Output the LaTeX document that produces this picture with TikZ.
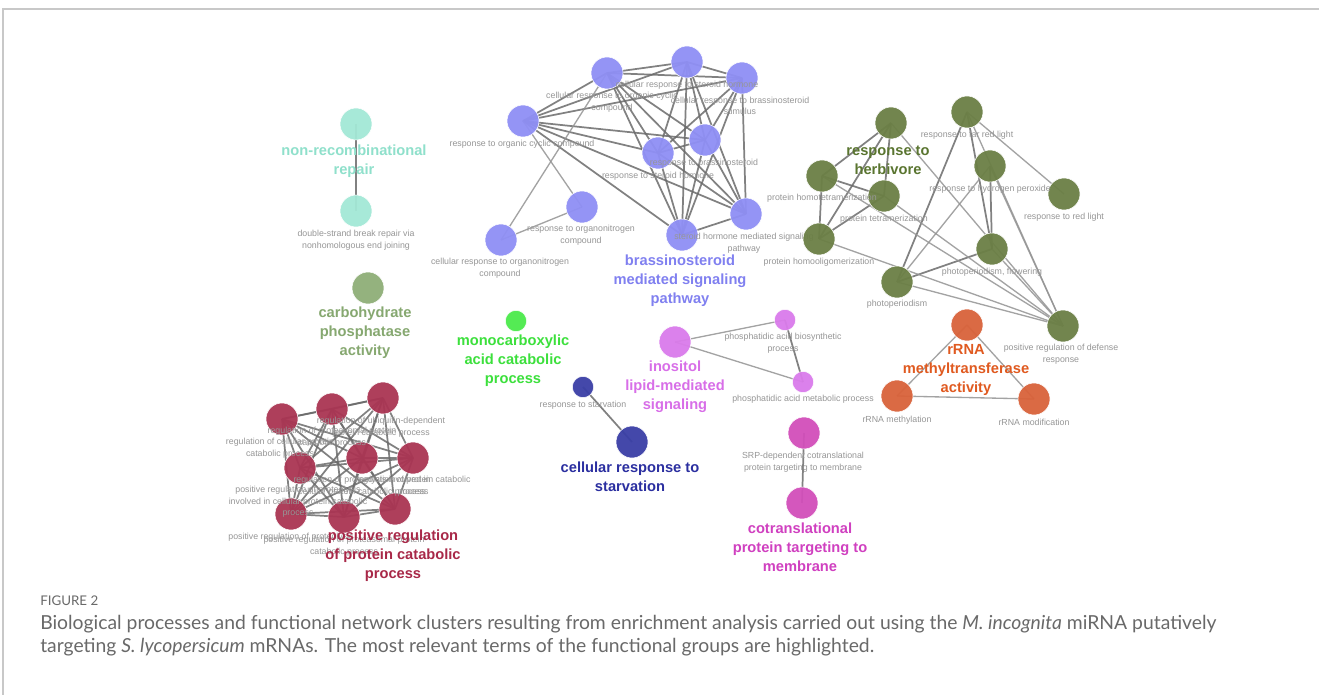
\documentclass[tikz,border=0pt]{standalone}
\usepackage{fontspec}
\setmainfont{Liberation Sans}
\newfontfamily\capfont{Lato}
\pgfdeclarelayer{edgelayer}
\pgfsetlayers{edgelayer,main}
\definecolor{labgray}{RGB}{150,150,150}
\definecolor{cpurple}{RGB}{143,143,245}
\definecolor{tpurple}{RGB}{128,128,240}
\definecolor{colive}{RGB}{107,127,69}
\definecolor{tolive}{RGB}{90,117,48}
\definecolor{corange}{RGB}{217,98,58}
\definecolor{torange}{RGB}{224,90,32}
\definecolor{corchid}{RGB}{218,123,235}
\definecolor{torchid}{RGB}{216,110,232}
\definecolor{cnavy}{RGB}{58,63,166}
\definecolor{tnavy}{RGB}{43,47,160}
\definecolor{cmag}{RGB}{210,79,186}
\definecolor{tmag}{RGB}{208,64,192}
\definecolor{cgreen}{RGB}{75,234,75}
\definecolor{tgreen}{RGB}{60,224,60}
\definecolor{ccarb}{RGB}{143,174,120}
\definecolor{tcarb}{RGB}{134,168,112}
\definecolor{cteal}{RGB}{163,232,214}
\definecolor{tteal}{RGB}{143,224,203}
\definecolor{ccrim}{RGB}{170,53,83}
\definecolor{tcrim}{RGB}{168,40,72}
\definecolor{capgray}{RGB}{105,105,105}
\definecolor{framegray}{RGB}{200,200,200}
\tikzset{
  nd/.style={circle, inner sep=0pt, minimum size=24pt, fill=#1, fill opacity=0.95, draw=white, line width=0.4pt},
  sm/.style={minimum size=16pt},
  lab/.style={align=center, inner sep=0pt, text=labgray, font=\fontsize{6.6}{8.6}\selectfont},
  big/.style={align=center, inner sep=0pt, text=#1, font=\fontsize{11}{14.25}\selectfont\bfseries},
  edge/.style={draw=black!58, line width=1.3pt, opacity=0.85},
  ledge/.style={draw=black!42, line width=1pt, opacity=0.85},
  captxt/.style={anchor=west, inner sep=0pt, text=capgray, font=\capfont\fontsize{14.5}{17}\selectfont}
}
\begin{document}
\begin{tikzpicture}[x=0.75pt,y=-0.75pt]
\useasboundingbox (0,0) rectangle (1319,695);
\begin{pgfonlayer}{edgelayer}
\fill[white] (0,0) rectangle (1319,695);
\end{pgfonlayer}
\draw[framegray, line width=0.8pt] (3,695) -- (3,9) -- (1319,9);

% ---------- purple cluster ----------
\node[nd=cpurple] (A) at (607,73) {};
\node[nd=cpurple] (B) at (687,62) {};
\node[nd=cpurple] (C) at (742,78) {};
\node[nd=cpurple] (D) at (523,121) {};
\node[nd=cpurple] (E) at (705,140) {};
\node[nd=cpurple] (F) at (658,153) {};
\node[nd=cpurple] (G) at (582,207) {};
\node[nd=cpurple] (H) at (746,214) {};
\node[nd=cpurple] (I) at (682,235) {};
\node[nd=cpurple] (J) at (501,240) {};
\node[lab] (lA) at (612,102) {cellular response to organic cyclic\\compound};
\node[lab] (lB) at (687,85) {cellular response to steroid hormone};
\node[lab] (lC) at (740,106) {cellular response to brassinosteroid\\stimulus};
\node[lab] (lD) at (522,144) {response to organic cyclic compound};
\node[lab] (lE) at (704,163) {response to brassinosteroid};
\node[lab] (lF) at (658,176) {response to steroid hormone};
\node[lab] (lG) at (581,235) {response to organonitrogen\\compound};
\node[lab] (lH) at (744,243) {steroid hormone mediated signaling\\pathway};
\node[lab] (lJ) at (500,268) {cellular response to organonitrogen\\compound};
\node[big=tpurple] (lI) at (680,281) {brassinosteroid\\mediated signaling\\pathway};

% ---------- olive cluster ----------
\node[nd=colive] (K1) at (891,123) {};
\node[nd=colive] (K2) at (967,112) {};
\node[nd=colive] (K3) at (822,176) {};
\node[nd=colive] (K4) at (884,196) {};
\node[nd=colive] (K5) at (990,166) {};
\node[nd=colive] (K6) at (1064,194) {};
\node[nd=colive] (K7) at (819,239) {};
\node[nd=colive] (K8) at (992,249) {};
\node[nd=colive] (K9) at (897,282) {};
\node[nd=colive] (K10) at (1063,326) {};
\node[big=tolive] (lK1) at (888,160) {response to\\herbivore};
\node[lab] (lK2) at (967,135) {response to far red light};
\node[lab] (lK5) at (990,189) {response to hydrogen peroxide};
\node[lab] (lK6) at (1064,217) {response to red light};
\node[lab] (lK3) at (822,198) {protein homotetramerization};
\node[lab] (lK4) at (884,219) {protein tetramerization};
\node[lab] (lK7) at (819,262) {protein homooligomerization};
\node[lab] (lK8) at (992,272) {photoperiodism, flowering};
\node[lab] (lK9) at (897,304) {photoperiodism};
\node[lab] (lK10) at (1061,354) {positive regulation of defense\\response};

% ---------- orange cluster ----------
\node[nd=corange] (O1) at (967,325) {};
\node[nd=corange] (O2) at (897,396) {};
\node[nd=corange] (O3) at (1034,399) {};
\node[big=torange] (lO1) at (966,370) {rRNA\\methyltransferase\\activity};
\node[lab] (lO2) at (897,420) {rRNA methylation};
\node[lab] (lO3) at (1034,422) {rRNA modification};

% ---------- orchid cluster ----------
\node[nd=corchid] (P1) at (675,342) {};
\node[nd=corchid, sm] (P2) at (785,320) {};
\node[nd=corchid, sm] (P3) at (803,382) {};
\node[big=torchid] (lP1) at (675,387) {inositol\\lipid-mediated\\signaling};
\node[lab] (lP2) at (783,343) {phosphatidic acid biosynthetic\\process};
\node[lab] (lP3) at (803,399) {phosphatidic acid metabolic process};

% ---------- starvation ----------
\node[nd=cnavy, sm] (S1) at (583,387) {};
\node[nd=cnavy] (S2) at (632,442) {};
\node[lab] (lS1) at (583,405) {response to starvation};
\node[big=tnavy] (lS2) at (630,477) {cellular response to\\starvation};

% ---------- cotranslational ----------
\node[nd=cmag] (M1) at (804,433) {};
\node[nd=cmag] (M2) at (802,503) {};
\node[lab] (lM1) at (803,462) {SRP-dependent cotranslational\\protein targeting to membrane};
\node[big=tmag] (lM2) at (800,547) {cotranslational\\protein targeting to\\membrane};

% ---------- monocarboxylic ----------
\node[nd=cgreen, sm] (N) at (516,321) {};
\node[big=tgreen] (lN) at (513,361) {monocarboxylic\\acid catabolic\\process};

% ---------- carbohydrate ----------
\node[nd=ccarb] (Q) at (368,288) {};
\node[big=tcarb] (lQ) at (365,333) {carbohydrate\\phosphatase\\activity};

% ---------- non-recombinational ----------
\node[nd=cteal] (T1) at (356,124) {};
\node[nd=cteal] (T2) at (356,211) {};
\node[big=tteal] (lT1) at (354,161) {non-recombinational\\repair};
\node[lab] (lT2) at (356,240) {double-strand break repair via\\nonhomologous end joining};

% ---------- crimson cluster ----------
\node[nd=ccrim] (R1) at (282,419) {};
\node[nd=ccrim] (R2) at (332,409) {};
\node[nd=ccrim] (R3) at (383,398) {};
\node[nd=ccrim] (R4) at (300,468) {};
\node[nd=ccrim] (R5) at (362,458) {};
\node[nd=ccrim] (R6) at (413,458) {};
\node[nd=ccrim] (R7) at (291,514) {};
\node[nd=ccrim] (R8) at (344,517) {};
\node[nd=ccrim] (R9) at (395,509) {};
\node[lab] (lR1) at (280,448) {regulation of cellular protein\\catabolic process};
\node[lab] (lR2) at (332,437) {regulation of proteasomal protein\\catabolic process};
\node[lab] (lR3) at (381,427) {regulation of ubiquitin-dependent\\protein catabolic process};
\node[lab] (lR4) at (298,502) {positive regulation of proteolysis\\involved in cellular protein catabolic\\process};
\node[lab] (lR5) at (362,486) {regulation of proteolysis involved in\\cellular protein catabolic process};
\node[lab] (lR6) at (413,486) {regulation of protein catabolic\\process};
\node[lab] (lR7) at (291,537) {positive regulation of proteolysis};
\node[lab] (lR8) at (344,546) {positive regulation of proteasomal protein\\catabolic process};
\node[big=tcrim] (lR9) at (393,556) {positive regulation\\of protein catabolic\\process};

% ---------- edges ----------
\begin{pgfonlayer}{edgelayer}
\foreach \a/\b in {A/B,A/C,A/D,A/E,A/F,A/H,A/I,B/C,B/D,B/E,B/F,B/H,B/I,C/D,C/E,C/F,C/H,C/I,D/E,D/F,D/H,D/I,E/F,E/H,E/I,F/H,F/I,H/I}
  \draw[edge] (\a.center) -- (\b.center);
\foreach \a/\b in {D/G,G/J,J/A}
  \draw[ledge] (\a.center) -- (\b.center);
\foreach \a/\b in {K1/K3,K1/K4,K1/K7,K3/K4,K3/K7,K4/K7,K2/K9,K8/K9,K2/K8,K5/K8}
  \draw[edge] (\a.center) -- (\b.center);
\foreach \a/\b in {K1/K10,K3/K10,K4/K10,K7/K10,K2/K10,K2/K6,K5/K9,K5/K10,K8/K10,K9/K10}
  \draw[ledge] (\a.center) -- (\b.center);
\foreach \a/\b in {O1/O2,O1/O3,O2/O3}
  \draw[ledge] (\a.center) -- (\b.center);
\foreach \a/\b in {P1/P2,P1/P3}
  \draw[ledge] (\a.center) -- (\b.center);
\draw[edge] (P2.center) -- (P3.center);
\draw[edge] (S1.center) -- (S2.center);
\draw[edge] (M1.center) -- (M2.center);
\draw[edge] (T1.center) -- (T2.center);
\foreach \a/\b in {R1/R2,R1/R3,R1/R4,R1/R5,R1/R6,R1/R7,R1/R8,R1/R9,R2/R3,R2/R4,R2/R5,R2/R6,R2/R7,R2/R8,R2/R9,R3/R4,R3/R5,R3/R6,R3/R7,R3/R8,R3/R9,R4/R5,R4/R6,R4/R7,R4/R8,R4/R9,R5/R6,R5/R7,R5/R8,R5/R9,R6/R7,R6/R8,R6/R9,R7/R8,R7/R9,R8/R9}
  \draw[edge] (\a.center) -- (\b.center);
\end{pgfonlayer}

% ---------- caption ----------
\node[captxt, font=\capfont\fontsize{10}{11}\selectfont] (fig) at (40,601) {\scalebox{1.0}[1]{FIGURE 2}};
\node[captxt] (cap1) at (40,624) {Biological processes and functional network clusters resulting from enrichment analysis carried out using the \textit{M. incognita} miRNA putatively};
\node[captxt] (cap2) at (40,647) {targeting \textit{S. lycopersicum} mRNAs. The most relevant terms of the functional groups are highlighted.};
\end{tikzpicture}
\end{document}
